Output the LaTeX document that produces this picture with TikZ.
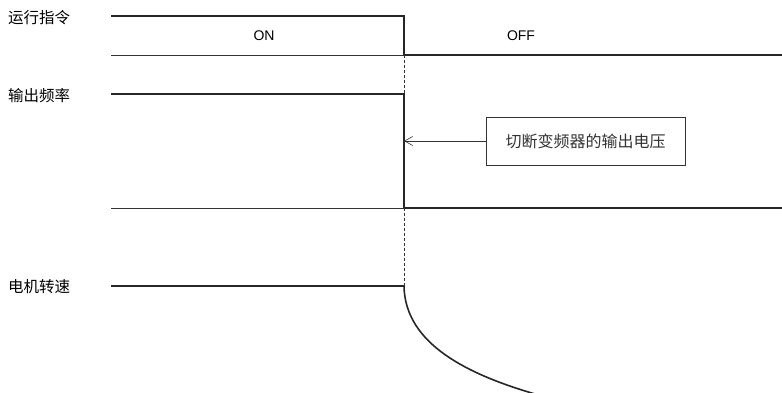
\documentclass[tikz,border=0pt]{standalone}
\usepackage{fontspec}
\setmainfont{Liberation Sans}
\newfontfamily\cjk{Noto Sans CJK SC}
\usetikzlibrary{arrows.meta}
\begin{document}
\begin{tikzpicture}[
  x=1pt, y=-1pt,
  sig/.style={line width=1.6pt, black!85},
  base/.style={line width=0.9pt, black!80},
  lbl/.style={font=\cjk\fontsize{15.5}{17}\selectfont, anchor=west, inner sep=0pt},
  state/.style={font=\fontsize{14}{16}\selectfont, inner sep=0pt},
  note/.style={draw, line width=0.6pt, black!80, minimum width=199pt, minimum height=48pt,
               font=\cjk\fontsize{16}{18}\selectfont, inner sep=0pt},
]
\useasboundingbox (0,0) rectangle (782,393);
\clip (0,0) rectangle (782,393);

% signal names
\node[lbl] (run)   at (8,18)  {运行指令};
\node[lbl] (freq)  at (8,96)  {输出频率};
\node[lbl] (speed) at (8,287) {电机转速};

% run command
\coordinate (r0) at (111,16);
\coordinate (r1) at (404,16);
\coordinate (r2) at (404,55);
\coordinate (r3) at (111,55);
\coordinate (r4) at (782,55);
\draw[base] (r3) -- (r2);
\draw[sig] (r0) -- (r1) -- (r2) -- (r4);
\node[state] (on)  at (264,36) {ON};
\node[state] (off) at (521,36) {OFF};

% output frequency
\coordinate (f0) at (111,94);
\coordinate (f1) at (404,94);
\coordinate (f2) at (404,208);
\coordinate (f3) at (111,208);
\coordinate (f4) at (782,208);
\draw[base] (f3) -- (f2);
\draw[sig] (f0) -- (f1) -- (f2) -- (f4);

% motor speed
\coordinate (m0) at (111,286);
\coordinate (m1) at (404,286);
\coordinate (m2) at (535,394);
\draw[sig] (m0) -- (m1) .. controls (405,345) and (470,375) .. (m2);

% stop instant
\draw[dashed, line width=0.6pt, black!80, dash pattern=on 3pt off 2pt] (r2) -- (f1);
\draw[dashed, line width=0.6pt, black!80, dash pattern=on 3pt off 2pt] (f2) -- (m1);

% annotation
\node[note] (cut) at (585.5,141) {切断变频器的输出电压};
\coordinate (hit) at (404,141);
\draw[line width=0.6pt, black!80, -{Straight Barb[length=8pt, width=9pt]}] (cut.west) -- (hit);
\end{tikzpicture}
\end{document}
